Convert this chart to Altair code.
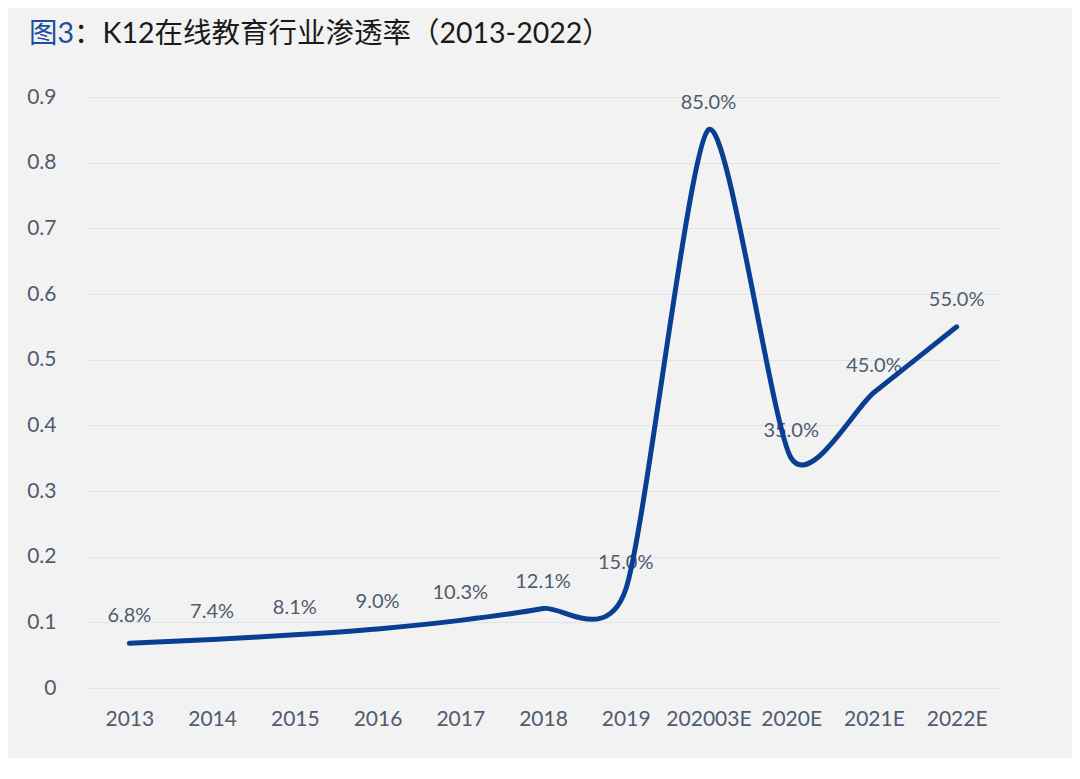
import altair as alt
import pandas as pd

categories = ["2013", "2014", "2015", "2016", "2017", "2018", "2019",
              "202003E", "2020E", "2021E", "2022E"]
values = [0.068, 0.074, 0.081, 0.090, 0.103, 0.121, 0.150,
          0.850, 0.350, 0.450, 0.550]
title_rest = "：K12在线教育行业渗透率（2013-2022）"
title_blue = "图3"

df = pd.DataFrame({"cat": categories, "val": values})
tdf = pd.DataFrame({"rest": [title_rest], "blue": [title_blue]})

FONT = "Lato, Noto Sans CJK SC, sans-serif"
LABEL_COLOR = "#4f5b6e"
LINE_COLOR = "#0a3e92"

x = alt.X("cat:N", sort=categories,
          scale=alt.Scale(type="point", padding=0.5),
          axis=alt.Axis(title=None, labelAngle=0, ticks=False, domain=False,
                        grid=False, labelFontSize=21, labelColor=LABEL_COLOR,
                        labelFont=FONT, labelPadding=20))
y = alt.Y("val:Q", scale=alt.Scale(domain=[0, 0.9], nice=False, zero=True),
          axis=alt.Axis(title=None, values=[0, 0.1, 0.2, 0.3, 0.4, 0.5, 0.6, 0.7, 0.8, 0.9],
                        format=".1~f", ticks=False, domain=False,
                        gridColor="#dde3ea", gridWidth=1.2,
                        labelFontSize=21, labelColor=LABEL_COLOR, labelFont=FONT,
                        labelPadding=32))

labels = alt.Chart(df).mark_text(dy=-27, fontSize=20, font=FONT,
                                 color=LABEL_COLOR).encode(
    x=x, y=y, text=alt.Text("val:Q", format=".1%"))

line = alt.Chart(df).mark_line(interpolate="cardinal", tension=0.3, strokeWidth=5,
                               color=LINE_COLOR, strokeCap="round").encode(x=x, y=y)

t_blue = alt.Chart(tdf).mark_text(align="right", baseline="middle", fontSize=28.5,
                                  font=FONT, color="#1f4e9c").encode(
    x=alt.value(-14), y=alt.value(-63), text="blue:N")
t_rest = alt.Chart(tdf).mark_text(align="left", baseline="middle", fontSize=28.5,
                                  font=FONT, color="#1a1a1a").encode(
    x=alt.value(-14), y=alt.value(-63), text="rest:N")

chart = alt.layer(labels, line, t_blue, t_rest).properties(
    width=910, height=591,
    autosize=alt.AutoSizeParams(type="none"),
    padding={"left": 80, "top": 89, "right": 74, "bottom": 70},
    background="#f2f2f2",
).configure_view(stroke=None)

chart.save("out.html", embed_options={"renderer": "svg", "actions": False})
